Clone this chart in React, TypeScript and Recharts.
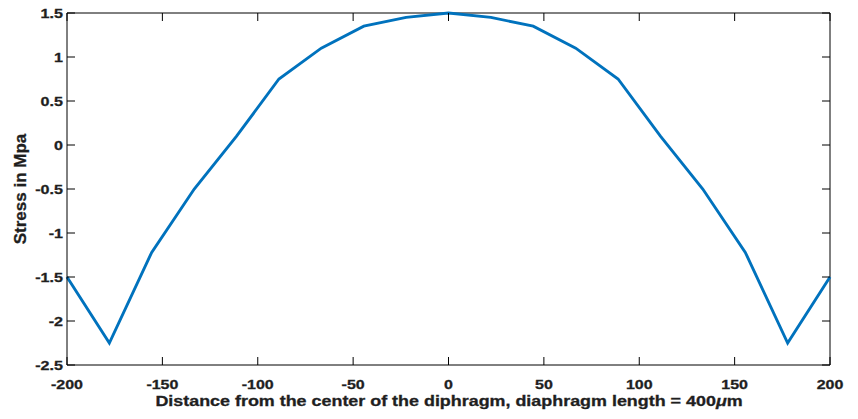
import { Line, LineChart, XAxis, YAxis, Label, ReferenceLine } from "recharts"

// distance from diaphragm centre (µm), 19 sample points
const positions = [
  -200, -177.8, -155.6, -133.3, -111.1, -88.9, -66.7, -44.4, -22.2, 0,
  22.2, 44.4, 66.7, 88.9, 111.1, 133.3, 155.6, 177.8, 200,
]
// stress (MPa)
const stress = [
  -1.5, -2.25, -1.22, -0.5, 0.1, 0.75, 1.1, 1.35, 1.45, 1.5,
  1.45, 1.35, 1.1, 0.75, 0.1, -0.5, -1.22, -2.25, -1.5,
]
const xTicks = [-200, -150, -100, -50, 0, 50, 100, 150, 200]
const yTicks = [-2.5, -2, -1.5, -1, -0.5, 0, 0.5, 1, 1.5]

const data = positions.map((x, i) => ({ x, stress: stress[i] }))

const FONT = '"Liberation Sans", Arial, Helvetica, sans-serif'
const TEXT = "#1f1f1f"

// plot box edges (px), used for the inward tick marks
const TOP = 13
const BOTTOM = 365
const LEFT = 67
const RIGHT = 830
const TICK = 8

function XTick({ x, y, payload }: any) {
  return (
    <g>
      <line x1={x} x2={x} y1={BOTTOM} y2={BOTTOM - TICK} stroke="#000" />
      <line x1={x} x2={x} y1={TOP} y2={TOP + TICK} stroke="#000" />
      <text
        transform={`translate(${x},${y}) scale(1.23,1)`}
        textAnchor="middle"
        dy="0.71em"
        fontFamily={FONT}
        fontWeight="bold"
        fontSize={13}
        fill={TEXT}
        stroke={TEXT}
        strokeWidth={0.3}
      >
        {payload.value}
      </text>
    </g>
  )
}

function YTick({ x, y, payload }: any) {
  return (
    <g>
      <line x1={LEFT} x2={LEFT + TICK} y1={y} y2={y} stroke="#000" />
      <line x1={RIGHT} x2={RIGHT - TICK} y1={y} y2={y} stroke="#000" />
      <text
        transform={`translate(${x + 1},${y}) scale(1.24,1)`}
        textAnchor="end"
        dy="0.36em"
        fontFamily={FONT}
        fontWeight="bold"
        fontSize={13}
        fill={TEXT}
        stroke={TEXT}
        strokeWidth={0.3}
      >
        {payload.value}
      </text>
    </g>
  )
}

function XLabel() {
  return (
    <text
      transform="translate(449,406) scale(1.28,1)"
      textAnchor="middle"
      fontFamily={FONT}
      fontWeight="bold"
      fontSize={14}
      fill={TEXT}
      stroke={TEXT}
      strokeWidth={0.3}
    >
      Distance from the center of the diphragm, diaphragm length = 400
      <tspan fontStyle="italic">μ</tspan>m
    </text>
  )
}

function YLabel() {
  return (
    <text
      transform="translate(26,189) rotate(-90)"
      textAnchor="middle"
      fontFamily={FONT}
      fontWeight="bold"
      fontSize={17}
      fill={TEXT}
      stroke={TEXT}
      strokeWidth={0.3}
    >
      Stress in Mpa
    </text>
  )
}

export default function App() {
  return (
    <div style={{ position: "absolute", left: 0, top: 0, background: "#fff" }}>
      <LineChart width={858} height={419} data={data} margin={{ top: TOP, right: 858 - RIGHT, bottom: 0, left: 0 }}>
        <XAxis
          dataKey="x"
          type="number"
          domain={[-200, 200]}
          ticks={xTicks}
          interval={0}
          height={419 - BOTTOM}
          tickLine={false}
          tickSize={0}
          tickMargin={15}
          tick={<XTick />}
          stroke="#000"
        >
          <Label content={<XLabel />} />
        </XAxis>
        <YAxis
          type="number"
          domain={[-2.5, 1.5]}
          ticks={yTicks}
          interval={0}
          width={LEFT}
          tickLine={false}
          tickSize={0}
          tickMargin={5}
          tick={<YTick />}
          stroke="#000"
        >
          <Label content={<YLabel />} />
        </YAxis>
        <ReferenceLine y={1.5} stroke="#000" />
        <ReferenceLine x={200} stroke="#000" />
        <Line
          type="linear"
          dataKey="stress"
          stroke="#0072BD"
          strokeWidth={2.9}
          dot={false}
          isAnimationActive={false}
        />
      </LineChart>
    </div>
  )
}
